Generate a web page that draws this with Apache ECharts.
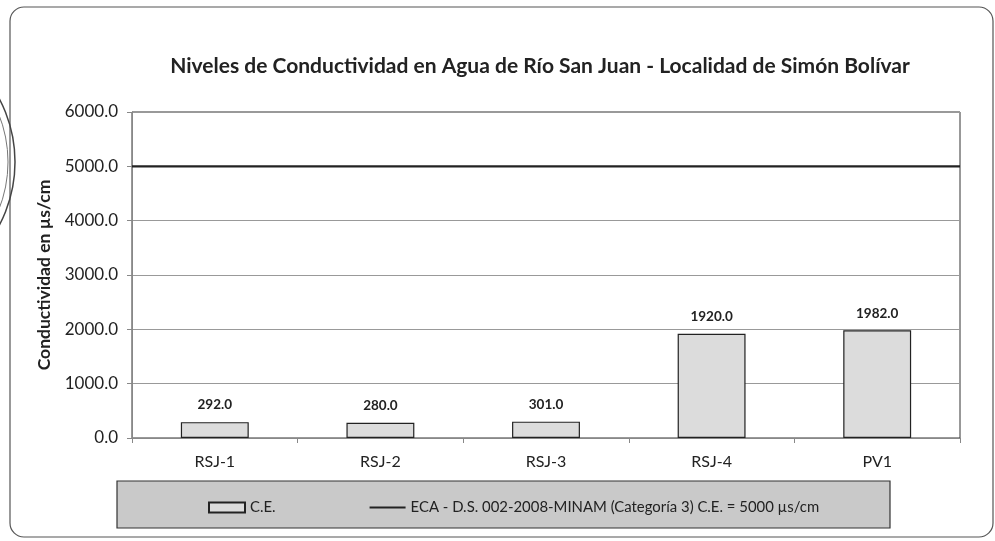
<!DOCTYPE html>
<html>
<head>
<meta charset="utf-8">
<script src="https://cdn.jsdelivr.net/npm/echarts@6/dist/echarts.min.js"></script>
<style>
  html, body { margin: 0; padding: 0; background: #fff; }
  #chart { width: 995px; height: 541px; }
</style>
</head>
<body>
<div id="chart"></div>
<script>
// ---------- data ----------
var categories = ["RSJ-1", "RSJ-2", "RSJ-3", "RSJ-4", "PV1"];
var ceValues = [292.0, 280.0, 301.0, 1920.0, 1982.0];
var ecaLimit = 5000;
var yTicks = { min: 0, max: 6000, step: 1000 };

var ceName = "C.E.";
var ecaName = "ECA - D.S. 002-2008-MINAM (Categoría 3) C.E. = 5000 µs/cm";
var FONT = "Lato";

var myChart = echarts.init(document.getElementById("chart"), null, { renderer: "canvas" });

var option = {
  backgroundColor: "#fff",
  animation: false,
  title: {
    text: "Niveles de Conductividad en Agua de Río San Juan - Localidad de Simón Bolívar",
    left: 535,
    textAlign: "center",
    top: 51,
    textStyle: { fontFamily: FONT, fontSize: 21, fontWeight: "bold", color: "#222" }
  },
  // outer frame, stamp edge and legend box
  graphic: [
    {
      type: "rect",
      shape: { x: 10, y: 7, width: 983, height: 530, r: 14 },
      style: { fill: "none", stroke: "#555", lineWidth: 1.2 },
      z: -10
    },
    {
      type: "circle",
      shape: { cx: -120, cy: 162, r: 135 },
      style: { fill: "none", stroke: "#444", lineWidth: 1.5 },
      z: -10
    },
    {
      type: "circle",
      shape: { cx: -120, cy: 162, r: 128 },
      style: { fill: "none", stroke: "#777", lineWidth: 1 },
      z: -10
    },
    {
      type: "rect",
      shape: { x: 117, y: 481, width: 773, height: 47 },
      style: { fill: "#c9c9c9", stroke: "#333", lineWidth: 1.2 },
      z: -5
    }
  ],
  legend: {
    left: 203,
    top: 495,
    itemWidth: 36,
    itemHeight: 10,
    itemGap: 93,
    textStyle: { fontFamily: FONT, fontSize: 14.9, color: "#222" },
    data: [{ name: ceName, icon: "rect" }, { name: ecaName }]
  },
  grid: {
    left: 132, right: 35, top: 112, bottom: 103,
    show: true, borderColor: "#333", borderWidth: 1, backgroundColor: "#fff"
  },
  xAxis: [
    {
      type: "category",
      data: categories,
      axisLine: { lineStyle: { color: "#888" } },
      axisTick: { show: true, length: 5, lineStyle: { color: "#888" } },
      axisLabel: { fontFamily: FONT, fontSize: 16, color: "#222", margin: 16 }
    },
    { type: "value", min: 0, max: 1, show: false }
  ],
  yAxis: {
    type: "value",
    min: yTicks.min,
    max: yTicks.max,
    interval: yTicks.step,
    name: "Conductividad en µs/cm",
    nameLocation: "middle",
    nameGap: 78,
    nameTextStyle: { fontFamily: FONT, fontSize: 17.5, fontWeight: "bold", color: "#222" },
    axisLine: { show: true, lineStyle: { color: "#888" } },
    axisTick: { show: true, length: 5, lineStyle: { color: "#888" } },
    axisLabel: {
      fontFamily: FONT, fontSize: 17, color: "#222", margin: 14,
      formatter: function (v) { return v.toFixed(1); }
    },
    splitLine: { lineStyle: { color: "#999", width: 1 } }
  },
  series: [
    {
      name: ceName,
      type: "bar",
      data: ceValues,
      barWidth: "41%",
      itemStyle: { color: "#dcdcdc", borderColor: "#222", borderWidth: 1.2 },
      label: {
        show: true, position: "top", distance: 10,
        fontFamily: FONT, fontSize: 13.5, fontWeight: "bold", color: "#222",
        formatter: function (p) { return p.value.toFixed(1); }
      }
    },
    {
      name: ecaName,
      type: "line",
      xAxisIndex: 1,
      data: [[0, ecaLimit], [1, ecaLimit]],
      symbol: "none",
      itemStyle: { color: "rgba(0,0,0,0)" },
      lineStyle: { color: "#222", width: 2.4 },
      z: 5
    }
  ]
};

myChart.setOption(option);
window.addEventListener("resize", myChart.resize);
</script>
</body>
</html>
